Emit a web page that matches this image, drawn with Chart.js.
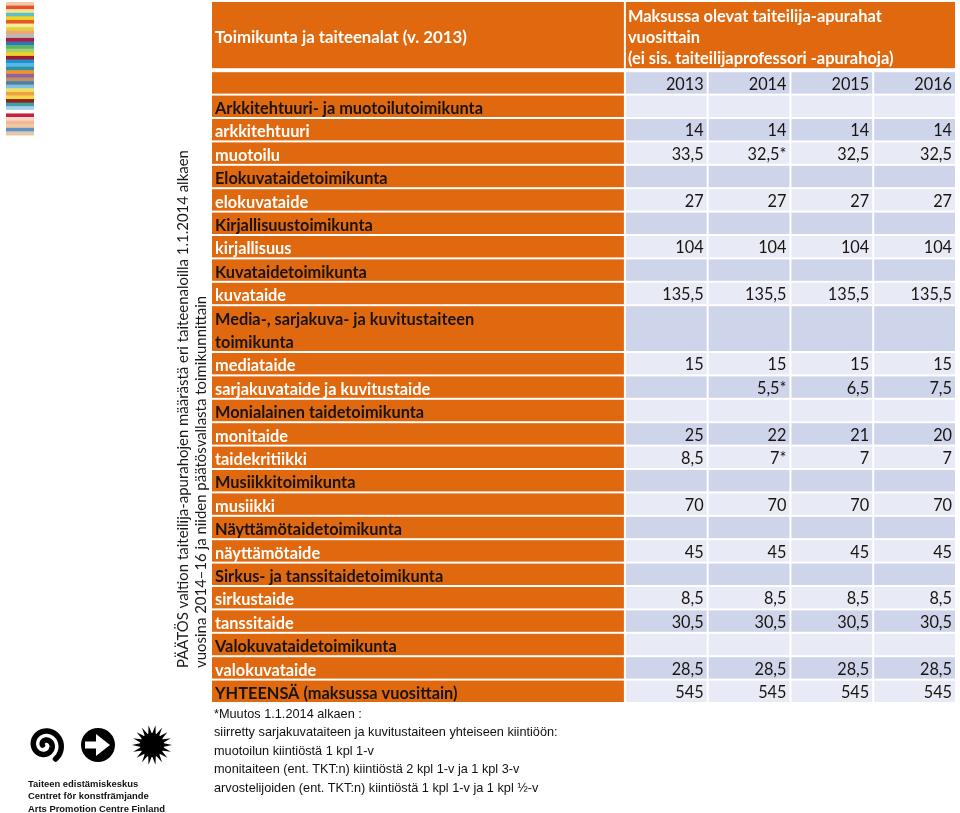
<!DOCTYPE html>
<html>
<head>
<meta charset="utf-8">
<script src="https://cdn.jsdelivr.net/npm/chart.js@4.4.1/dist/chart.umd.min.js"></script>
<style>
  html, body { margin: 0; padding: 0; background: #ffffff; }
  #wrap { position: relative; width: 960px; height: 813px; overflow: hidden; }
  canvas { position: absolute; left: 0; top: 0; }
</style>
</head>
<body>
<div id="wrap"><canvas id="c" width="960" height="813"></canvas></div>
<script>
// ---------------- DATA ----------------
const headerLeft = 'Toimikunta ja taiteenalat (v. 2013)';
const headerRight = ['Maksussa olevat taiteilija-apurahat', 'vuosittain', '(ei sis. taiteilijaprofessori -apurahoja)'];
const years = ['2013', '2014', '2015', '2016'];

const rowLabels = [
  'Arkkitehtuuri- ja muotoilutoimikunta',
  'arkkitehtuuri',
  'muotoilu',
  'Elokuvataidetoimikunta',
  'elokuvataide',
  'Kirjallisuustoimikunta',
  'kirjallisuus',
  'Kuvataidetoimikunta',
  'kuvataide',
  'Media-, sarjakuva- ja kuvitustaiteen\ntoimikunta',
  'mediataide',
  'sarjakuvataide ja kuvitustaide',
  'Monialainen taidetoimikunta',
  'monitaide',
  'taidekritiikki',
  'Musiikkitoimikunta',
  'musiikki',
  'Näyttämötaidetoimikunta',
  'näyttämötaide',
  'Sirkus- ja tanssitaidetoimikunta',
  'sirkustaide',
  'tanssitaide',
  'Valokuvataidetoimikunta',
  'valokuvataide',
  'YHTEENSÄ (maksussa vuosittain)'
];
// 'g' = toimikunta / total row (dark text), 'a' = art form row (white text)
const rowKinds = ['g','a','a','g','a','g','a','g','a','g','a','a','g','a','a','g','a','g','a','g','a','a','g','a','g'];
// number of table lines a row occupies
const rowSpans = [1,1,1,1,1,1,1,1,1,2,1,1,1,1,1,1,1,1,1,1,1,1,1,1,1];

const v2013 = [null,14,33.5,null,27,null,104,null,135.5,null,15,null,null,25,8.5,null,70,null,45,null,8.5,30.5,null,28.5,545];
const v2014 = [null,14,32.5,null,27,null,104,null,135.5,null,15,5.5,null,22,7,null,70,null,45,null,8.5,30.5,null,28.5,545];
const v2015 = [null,14,32.5,null,27,null,104,null,135.5,null,15,6.5,null,21,7,null,70,null,45,null,8.5,30.5,null,28.5,545];
const v2016 = [null,14,32.5,null,27,null,104,null,135.5,null,15,7.5,null,20,7,null,70,null,45,null,8.5,30.5,null,28.5,545];
// rows whose 2014 value changed 1.1.2014 (marked with *)
const changed2014 = [2, 11, 14];

const sideTitle = [
  'PÄÄTÖS valtion taiteilija-apurahojen määrästä eri taiteenaloilla 1.1.2014 alkaen',
  'vuosina 2014–16 ja niiden päätösvallasta toimikunnittain'
];
const footnotes = [
  '*Muutos 1.1.2014 alkaen :',
  'siirretty sarjakuvataiteen ja kuvitustaiteen yhteiseen kiintiöön:',
  'muotoilun kiintiöstä 1 kpl 1-v',
  'monitaiteen (ent. TKT:n) kiintiöstä 2 kpl 1-v ja 1 kpl 3-v',
  'arvostelijoiden (ent. TKT:n) kiintiöstä 1 kpl 1-v ja 1 kpl ½-v'
];
const logoLines = ['Taiteen edistämiskeskus', 'Centret för konstfrämjande', 'Arts Promotion Centre Finland'];

// ---------------- STYLE ----------------
const ORANGE = '#E0690F';
const LAV_DARK = '#CED4EA';
const LAV_LIGHT = '#E8EBF5';
const DARK_TEXT = '#1a1410';
const stripeColors = ['#f1c9a3','#e6503a','#f4e58d','#5cbfc9','#f1d21e','#e35a29','#f6ec9c','#e7cf42','#e8a878',
  '#b9b9b9','#ae1d3d','#2c77c0','#5db760','#a2d072','#f0d022','#a01931','#2190d1','#52b9e8','#3190a1','#f19131',
  '#9161a0','#c09061','#5080a1','#82c1e1','#f0e062','#f1a142','#f2d94a','#912021','#41a0a1','#a2d1f0','#ffffff',
  '#c8213d','#f8d9d1','#f0b991','#f3c8a0','#6191c9','#e1c9a9'];

const valueCols = [v2013, v2014, v2015, v2016];
const LABEL_UNITS = 5;     // label column width in column units
const HEADER_UNITS = 3;    // header height in line units
const fmt = (v, star) => v == null ? '' : String(v).replace('.', ',') + (star ? '*' : '');

function fitFont(ctx, weight, family, refText, targetW) {
  ctx.font = weight + ' 20px ' + family;
  const w = ctx.measureText(refText).width;
  return (20 * targetW / w).toFixed(2) + 'px';
}

const tablePlugin = {
  id: 'tableCells',
  beforeDraw(chart) {
    const ctx = chart.ctx;
    const xs = chart.scales.x, ys = chart.scales.y;
    const X = v => xs.getPixelForValue(v);
    const Y = v => ys.getPixelForValue(v);
    const GAP = 2;

    const boldSize = fitFont(ctx, 'bold', 'Lato', 'Arkkitehtuuri- ja muotoilutoimikunta', 268);
    const regSize = fitFont(ctx, 'normal', 'Lato', '33,5', 32);
    const BOLD = 'bold ' + boldSize + ' Lato';
    const REG = 'normal ' + regSize + ' Lato';

    function cell(x0, x1, y0, y1, color, bottomGap) {
      ctx.fillStyle = color;
      const px0 = X(x0), px1 = X(x1) - GAP, py0 = Y(y0), py1 = Y(y1) - (bottomGap == null ? GAP : bottomGap);
      ctx.fillRect(px0, py0, px1 - px0, py1 - py0);
      return { px0, px1, py0, py1 };
    }

    // header
    const hl = cell(0, LABEL_UNITS, 0, HEADER_UNITS, ORANGE, 4);
    const hr = cell(LABEL_UNITS, LABEL_UNITS + years.length, 0, HEADER_UNITS, ORANGE, 4);
    ctx.fillStyle = '#ffffff';
    ctx.textBaseline = 'middle';
    ctx.textAlign = 'left';
    ctx.font = 'bold ' + fitFont(ctx, 'bold', 'Lato', headerLeft, 252) + ' Lato';
    ctx.fillText(headerLeft, hl.px0 + 3, (hl.py0 + hl.py1) / 2 + 2);
    ctx.font = 'bold ' + fitFont(ctx, 'bold', 'Lato', headerRight[0], 254) + ' Lato';
    const lh = (hr.py1 - hr.py0) / 3.2;
    headerRight.forEach((t, i) => ctx.fillText(t, hr.px0 + 2, hr.py0 + lh * (i + 0.72)));

    // year row
    let yU = HEADER_UNITS;
    cell(0, LABEL_UNITS, yU, yU + 1, ORANGE);
    years.forEach((yr, j) => {
      const c = cell(LABEL_UNITS + j, LABEL_UNITS + j + 1, yU, yU + 1, LAV_DARK);
      ctx.fillStyle = DARK_TEXT; ctx.font = REG; ctx.textAlign = 'right';
      ctx.fillText(yr, c.px1 - 3, (c.py0 + c.py1) / 2 + 1.5);
    });
    yU += 1;

    // body rows
    rowLabels.forEach((label, i) => {
      const span = rowSpans[i];
      const lc = cell(0, LABEL_UNITS, yU, yU + span, ORANGE);
      ctx.font = BOLD; ctx.textAlign = 'left';
      ctx.fillStyle = rowKinds[i] === 'g' ? DARK_TEXT : '#ffffff';
      const lines = label.split('\n');
      const lineH = (lc.py1 - lc.py0 + GAP) / lines.length;
      lines.forEach((t, k) => ctx.fillText(t, lc.px0 + 3, lc.py0 + lineH * (k + 0.5) + 1.5));
      const bg = i % 2 === 0 ? LAV_LIGHT : LAV_DARK;
      valueCols.forEach((col, j) => {
        const c = cell(LABEL_UNITS + j, LABEL_UNITS + j + 1, yU, yU + span, bg);
        const star = j === 1 && changed2014.includes(i);
        ctx.fillStyle = DARK_TEXT; ctx.font = REG; ctx.textAlign = 'right';
        ctx.fillText(fmt(col[i], star), c.px1 - 3, (c.py0 + c.py1) / 2 + 1.5);
      });
      yU += span;
    });
  },
  afterDraw(chart) {
    const ctx = chart.ctx;
    const top = chart.chartArea.top, bottom = chart.chartArea.bottom, left = chart.chartArea.left;
    ctx.save();
    // colour strip (logo band)
    const sh = 133 / stripeColors.length;
    stripeColors.forEach((c, i) => { ctx.fillStyle = c; ctx.fillRect(6, top + i * sh, 28, sh + 0.5); });

    // rotated side title
    ctx.fillStyle = '#1a1a1a';
    ctx.textAlign = 'left'; ctx.textBaseline = 'middle';
    ctx.font = 'normal ' + fitFont(ctx, 'normal', 'Lato', sideTitle[0], 518) + ' Lato';
    [183, 201].forEach((x, i) => {
      ctx.save(); ctx.translate(x, 668); ctx.rotate(-Math.PI / 2);
      ctx.fillText(sideTitle[i], 0, 0); ctx.restore();
    });

    // footnotes
    ctx.fillStyle = '#111111';
    ctx.font = 'normal ' + fitFont(ctx, 'normal', '"Liberation Sans"', footnotes[1], 344) + ' "Liberation Sans"';
    footnotes.forEach((t, i) => ctx.fillText(t, left + 2, bottom + 10 + i * 18.5));

    // logo symbols
    ctx.fillStyle = '#000'; ctx.strokeStyle = '#000';
    // spiral
    ctx.lineWidth = 5.5; ctx.lineCap = 'round';
    ctx.beginPath();
    for (let t = 0; t <= 3.3 * Math.PI; t += 0.05) {
      const r = 2.5 + t * 1.45;
      const px = 45 + r * Math.cos(t + Math.PI), py = 745 + r * Math.sin(t + Math.PI);
      t === 0 ? ctx.moveTo(px, py) : ctx.lineTo(px, py);
    }
    ctx.stroke();
    // arrow in circle
    ctx.beginPath(); ctx.arc(98, 745, 17, 0, Math.PI * 2); ctx.fill();
    ctx.fillStyle = '#fff';
    ctx.fillRect(85, 741.5, 14, 7);
    ctx.beginPath(); ctx.moveTo(96, 734); ctx.lineTo(110, 745); ctx.lineTo(96, 756); ctx.closePath(); ctx.fill();
    // sun
    ctx.fillStyle = '#000';
    ctx.beginPath();
    const n = 18;
    for (let k = 0; k <= n * 2; k++) {
      const a = k * Math.PI / n;
      const r = k % 2 === 0 ? 20 : 11;
      const px = 152 + r * Math.cos(a), py = 745 + r * Math.sin(a);
      k === 0 ? ctx.moveTo(px, py) : ctx.lineTo(px, py);
    }
    ctx.closePath(); ctx.fill();
    ctx.beginPath(); ctx.arc(152, 745, 12, 0, Math.PI * 2); ctx.fill();

    // logo text
    ctx.fillStyle = '#111';
    ctx.font = '600 ' + fitFont(ctx, '600', '"Liberation Sans Narrow", "Liberation Sans"', logoLines[2], 137) + ' "Liberation Sans Narrow", "Liberation Sans"';
    logoLines.forEach((t, i) => ctx.fillText(t, 28, 784 + i * 12.5));
    ctx.restore();
  }
};

new Chart(document.getElementById('c'), {
  type: 'scatter',
  data: { datasets: [] },
  options: {
    responsive: false,
    animation: false,
    events: [],
    layout: { padding: { left: 212, right: 3, top: 2, bottom: 109 } },
    plugins: { legend: { display: false }, tooltip: { enabled: false } },
    scales: {
      x: { type: 'linear', min: 0, max: LABEL_UNITS + years.length, display: false },
      y: { type: 'linear', min: 0, max: HEADER_UNITS + 1 + rowSpans.reduce((a, b) => a + b, 0), reverse: true, display: false }
    }
  },
  plugins: [tablePlugin]
});
</script>
</body>
</html>
